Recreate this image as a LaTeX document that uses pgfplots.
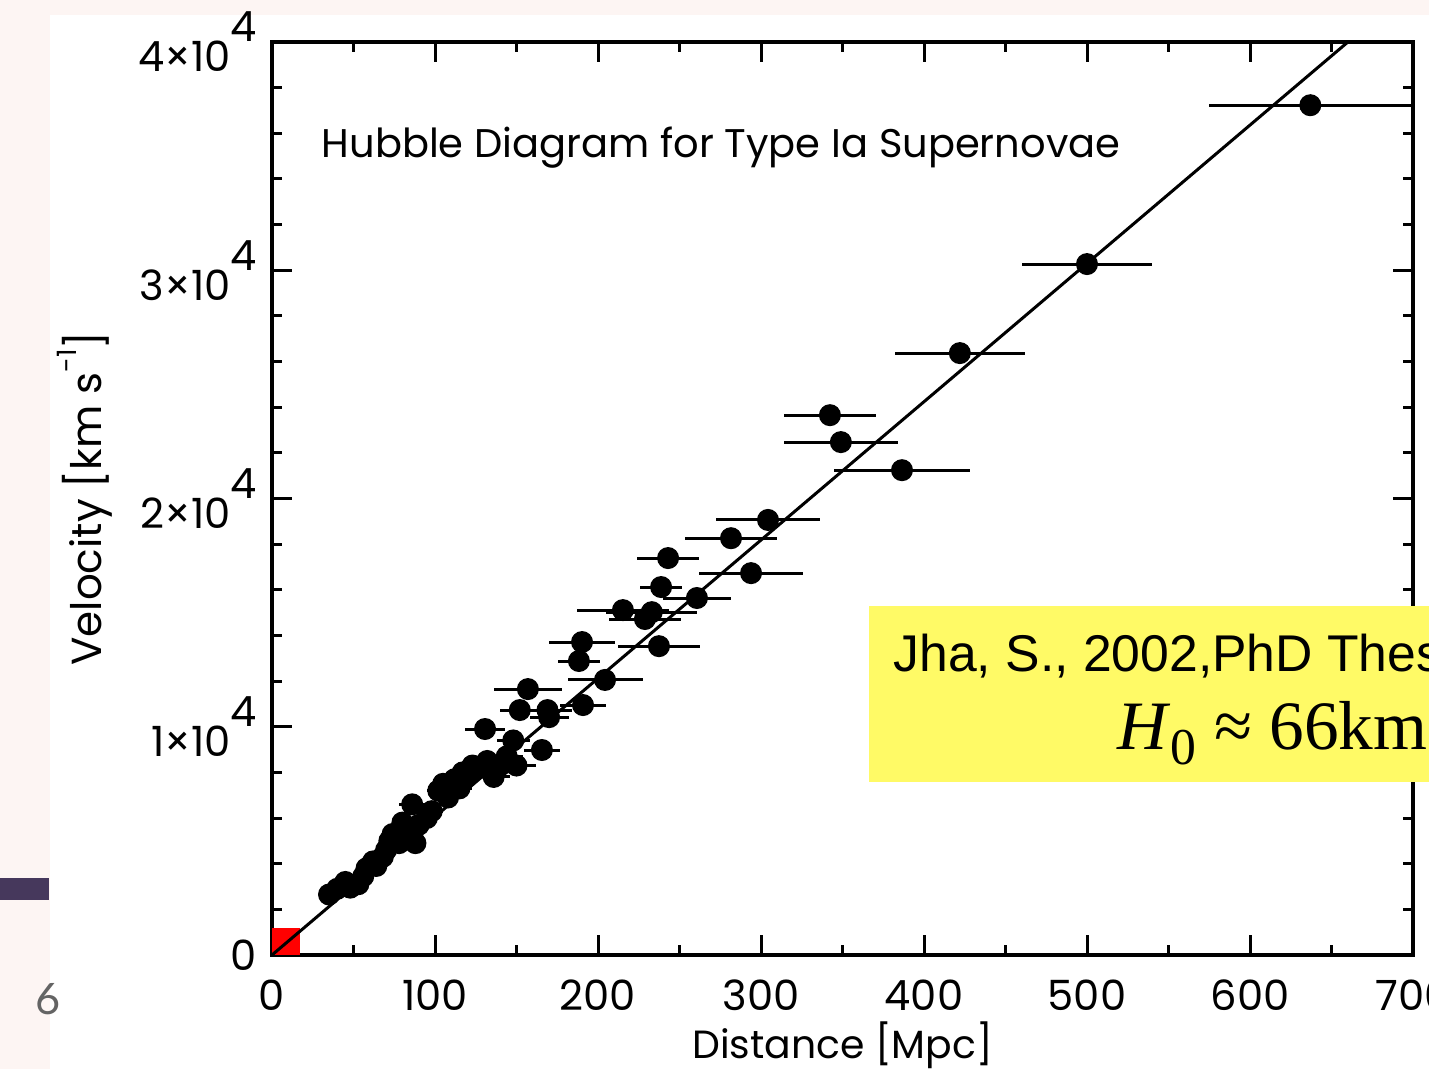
\documentclass[border=0pt]{standalone}
\usepackage{pgfplots}
\pgfplotsset{compat=1.18}
\usepackage{pgfplotstable}
\usepackage{fontspec}
\setmainfont{Poppins}
\newfontfamily\arialf{Liberation Sans}
\newfontfamily\timesf{Liberation Serif}
\newfontfamily\latof{Lato}
\definecolor{slidebg}{RGB}{253,245,243}
\definecolor{slidebar}{RGB}{70,56,92}
\definecolor{note}{RGB}{255,250,102}
\definecolor{pagenum}{RGB}{100,100,100}

\pgfplotstableread{
x y ex
35 2650 3
40 2900 3
45 3200 4
48 2950 4
53 3100 4
56 3450 4
58 3800 4
62 4100 5
64 3900 5
68 4300 5
70 4600 5
72 5000 5
74 5300 5
78 4900 5
80 5800 6
84 5400 6
86 6600 8
88 4900 6
90 5700 6
95 6000 6
98 6300 7
102 7200 7
105 7500 7
108 6900 8
112 7700 8
115 7300 8
117 8000 8
120 7900 8
123 8300 9
128 8200 9
130.7 9900 12
132 8500 9
136 7800 10
140 8300 10
144 8700 10
148 9400 10
150 8300 12
152 10730 12
157 11650 21
165.6 8980 11
169 10730 15
170 10420 12
188.3 12880 13
190.2 13710 20
190.8 10950 14
204.3 12050 23
215.3 15110 28
228.8 14720 22
233 15020 28
237.4 13530 25
238.7 16120 13
243 17390 19
260.7 15640 21
281.6 18260 28
293.9 16730 32
304.3 19060 32
342.3 23650 28
349 22470 35
386.5 21240 42
422 26370 40
500 30270 40
637 37230 62
}\sn

\newcommand\upfour{\raisebox{0.72em}{4}}

\begin{document}
\begin{tikzpicture}
\path[use as bounding box] (0,0) rectangle (428.7pt,320.7pt);
\clip (0,0) rectangle (428.7pt,320.7pt);
\fill[slidebg] (0,0) rectangle (428.7pt,320.7pt);
\fill[white] (15pt,0) rectangle (428.7pt,316.2pt);
\fill[slidebar] (0,50.7pt) rectangle (14.7pt,57.3pt);
\begin{axis}[
  at={(81.6pt,34.2pt)}, anchor=south west,
  width=342.3pt, height=273.9pt, scale only axis,
  xmin=0, xmax=700, ymin=0, ymax=40000,
  xtick={0,100,...,700},
  xticklabels={0,100,200,300,400,500,600,700},
  minor x tick num=1,
  ytick={0,10000,20000,30000,40000},
  yticklabels={0,1×10\upfour,2×10\upfour,3×10\upfour,4×10\upfour},
  minor y tick num=4,
  scaled y ticks=false,
  tick align=inside,
  major tick length=6pt, minor tick length=3pt,
  tick style={black, line width=0.9pt},
  axis line style={line width=1.2pt},
  ticklabel style={font=\fontsize{12.5}{14}\selectfont},
  xticklabel style={yshift=-4pt},
  yticklabel style={xshift=-1pt},
  xlabel={Distance [Mpc]},
  ylabel={Velocity [km s\raisebox{0.6em}{\fontsize{8}{8}\selectfont -1}]},
  every axis x label/.style={at={(axis description cs:0.5,-0.0986)}, anchor=center, font=\fontsize{11.8}{14}\selectfont},
  every axis y label/.style={at={(axis description cs:-0.164,0.5)}, anchor=center, rotate=90, font=\fontsize{12.6}{14}\selectfont},
]
\fill[red] (axis cs:0,0) rectangle (axis cs:17,1200);
\addplot[black, line width=0.9pt] coordinates {(0,0) (700,42420)};
\addplot[only marks, mark=*, mark size=3.1pt, black,
  error bars/.cd, x dir=both, x explicit, error mark=none,
  error bar style={line width=0.9pt}]
  table[x=x, y=y, x error=ex] {\sn};
\node[anchor=base west, inner sep=0pt, font=\fontsize{12}{14}\selectfont] at (rel axis cs:0.043,0.873) {Hubble Diagram for Type Ia Supernovae};
\end{axis}
\fill[note] (260.7pt,86.1pt) rectangle (440pt,138.9pt);
\node[anchor=base west, inner sep=0pt, font=\arialf\fontsize{15.5}{18}\selectfont] at (267.9pt,119.1pt) {Jha, S., 2002,PhD Thesis};
\node[anchor=base west, inner sep=0pt, font=\timesf\fontsize{20.8}{24}\selectfont] at (335.1pt,95.7pt) {\textit{H}\raisebox{-0.45ex}{\fontsize{15.5}{16}\selectfont 0} ≈ 66km s\textsuperscript{-1} Mpc\textsuperscript{-1}};
\node[pagenum, anchor=base, inner sep=0pt, font=\latof\fontsize{13}{15}\selectfont] at (14.4pt,16.2pt) {6};
\end{tikzpicture}
\end{document}
